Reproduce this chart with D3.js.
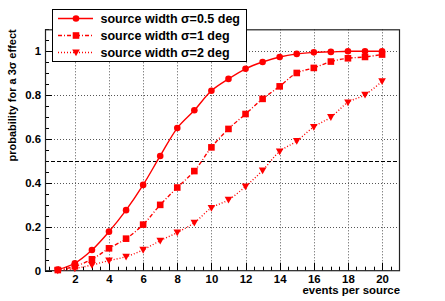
<!DOCTYPE html>
<html>
<head>
<meta charset="utf-8">
<script src="https://d3js.org/d3.v7.min.js"></script>
<style>
  body { margin: 0; background: #fff; }
  text { font-family: "Liberation Sans", Arial, sans-serif; font-weight: bold; }
</style>
</head>
<body>
<svg id="chart" width="445" height="301"></svg>
<script>
// values
var events = [1, 2, 3, 4, 5, 6, 7, 8, 9, 10, 11, 12, 13, 14, 15, 16, 17, 18, 19, 20];
var sigma05 = [0.005, 0.034, 0.094, 0.178, 0.276, 0.391, 0.523, 0.650, 0.731, 0.820,
               0.874, 0.920, 0.951, 0.974, 0.988, 0.995, 0.997, 1.0, 1.0, 1.0];
var sigma1 = [0.003, 0.020, 0.052, 0.102, 0.146, 0.210, 0.300, 0.379, 0.454, 0.562,
              0.646, 0.714, 0.783, 0.840, 0.901, 0.924, 0.953, 0.968, 0.974, 0.985];
var sigma2 = [0.001, 0.010, 0.026, 0.046, 0.064, 0.095, 0.137, 0.174, 0.219, 0.286,
              0.323, 0.384, 0.457, 0.543, 0.591, 0.655, 0.700, 0.767, 0.802, 0.863];
var seriesNames = ["source width \u03c3=0.5 deg", "source width \u03c3=1 deg", "source width \u03c3=2 deg"];
var xTicks = [2, 4, 6, 8, 10, 12, 14, 16, 18, 20];
var yTicks = [0, 0.2, 0.4, 0.6, 0.8, 1];
var threshold = 0.5;

// plot frame in pixels
var pLeft = 45, pRight = 400, pTop = 29.3, pBottom = 270.7;

var svg = d3.select("#chart");

var x = d3.scaleLinear().domain([0.25, 21.05]).range([pLeft, pRight]);
var y = d3.scaleLinear().domain([0, 1.1]).range([pBottom, pTop]);

// grid
var grid = svg.append("g");
grid.selectAll(".vg")
  .data(xTicks)
  .enter().append("line")
  .attr("x1", function(d) { return Math.round(x(d)) + 0.5; })
  .attr("x2", function(d) { return Math.round(x(d)) + 0.5; })
  .attr("y1", pTop).attr("y2", pBottom)
  .attr("stroke", "#555").attr("stroke-width", 1)
  .attr("stroke-dasharray", "1,2");
grid.selectAll(".hg")
  .data(yTicks.filter(function(d) { return d > 0; }))
  .enter().append("line")
  .attr("x1", pLeft).attr("x2", pRight)
  .attr("y1", function(d) { return Math.round(y(d)) + 0.5; })
  .attr("y2", function(d) { return Math.round(y(d)) + 0.5; })
  .attr("stroke", "#555").attr("stroke-width", 1)
  .attr("stroke-dasharray", "1,2");

// 0.5 line
svg.append("line")
  .attr("x1", pLeft).attr("x2", pRight)
  .attr("y1", Math.round(y(threshold)) + 0.5).attr("y2", Math.round(y(threshold)) + 0.5)
  .attr("stroke", "#000").attr("stroke-width", 1)
  .attr("stroke-dasharray", "4,2");

// axes
var xAxis = d3.axisBottom(x).tickValues(xTicks).tickSize(0).tickPadding(4)
  .tickFormat(d3.format("d"));
var gx = svg.append("g").attr("transform", "translate(0," + pBottom + ")").call(xAxis);
gx.select(".domain").remove();
gx.selectAll("text").style("font-size", "11.4px").attr("fill", "#000");

var yAxis = d3.axisLeft(y).tickValues(yTicks).tickSize(0).tickPadding(4)
  .tickFormat(function(d) { return d3.format("")(d); });
var gy = svg.append("g").attr("transform", "translate(" + pLeft + ",0)").call(yAxis);
gy.select(".domain").remove();
gy.selectAll("text").style("font-size", "11.4px").attr("fill", "#000");

// tick marks drawn inward from the frame like ROOT
var xMinor = d3.range(0.5, 21.01, 0.5);
svg.append("g").selectAll("line")
  .data(xMinor)
  .enter().append("line")
  .attr("x1", function(d) { return Math.round(x(d)) + 0.5; })
  .attr("x2", function(d) { return Math.round(x(d)) + 0.5; })
  .attr("y1", pBottom)
  .attr("y2", function(d) { return pBottom - (d % 2 === 0 ? 8 : 4); })
  .attr("stroke", "#000");
var yMinor = d3.range(0, 1.101, 0.05);
svg.append("g").selectAll("line")
  .data(yMinor)
  .enter().append("line")
  .attr("y1", function(d) { return Math.round(y(d)) + 0.5; })
  .attr("y2", function(d) { return Math.round(y(d)) + 0.5; })
  .attr("x1", pLeft)
  .attr("x2", function(d, i) { return pLeft + (i % 4 === 0 ? 7 : 4); })
  .attr("stroke", "#000");

// frame
svg.append("rect")
  .attr("x", pLeft + 0.5).attr("y", pTop + 0.5)
  .attr("width", pRight - pLeft - 1).attr("height", pBottom - pTop - 0.5)
  .attr("fill", "none").attr("stroke", "#222").attr("stroke-width", 1.2);

// titles
svg.append("text")
  .attr("x", pRight).attr("y", 293.5)
  .attr("text-anchor", "end")
  .style("font-size", "11.4px")
  .text("events per source");
svg.append("text")
  .attr("transform", "translate(15.5," + pTop + ") rotate(-90)")
  .attr("text-anchor", "end")
  .style("font-size", "11px")
  .text("probability for a 3\u03c3 effect");

// series
var series = [
  { name: seriesNames[0], values: sigma05, dash: null, marker: "circle" },
  { name: seriesNames[1], values: sigma1, dash: "4,2,1,2", marker: "square" },
  { name: seriesNames[2], values: sigma2, dash: "1,2", marker: "triangle" }
];

var line = d3.line()
  .x(function(d) { return x(d[0]); })
  .y(function(d) { return y(d[1]); })
  .curve(d3.curveCatmullRom);

function drawMarker(g, type, cx, cy) {
  if (type === "circle") {
    g.append("circle").attr("cx", cx).attr("cy", cy).attr("r", 3.3).attr("fill", "#f00");
  } else if (type === "square") {
    g.append("rect").attr("x", cx - 3.3).attr("y", cy - 3.3).attr("width", 6.6).attr("height", 6.6).attr("fill", "#f00");
  } else {
    g.append("path")
      .attr("d", "M" + (cx - 3.8) + "," + (cy - 3) + "L" + (cx + 3.8) + "," + (cy - 3) + "L" + cx + "," + (cy + 3.8) + "Z")
      .attr("fill", "#f00");
  }
}

series.forEach(function(s) {
  var pts = events.map(function(e, i) { return [e, s.values[i]]; });
  svg.append("path")
    .datum(pts)
    .attr("d", line)
    .attr("fill", "none")
    .attr("stroke", "#f00")
    .attr("stroke-width", 1.4)
    .attr("stroke-dasharray", s.dash);
  var mg = svg.append("g");
  pts.forEach(function(p) { drawMarker(mg, s.marker, x(p[0]), y(p[1])); });
});

// legend
var lg = svg.append("g");
lg.append("rect")
  .attr("x", 52.5).attr("y", 9.5).attr("width", 194).attr("height", 52)
  .attr("fill", "#fff").attr("stroke", "#000");
series.forEach(function(s, i) {
  var ly = 18.5 + i * 17;
  lg.append("line")
    .attr("x1", 58).attr("x2", 93).attr("y1", ly).attr("y2", ly)
    .attr("stroke", "#f00").attr("stroke-width", 1.4)
    .attr("stroke-dasharray", s.dash);
  drawMarker(lg, s.marker, 76, ly);
  lg.append("text")
    .attr("x", 100.5).attr("y", ly + 4.5)
    .style("font-size", "12.5px")
    .text(s.name);
});
</script>
</body>
</html>
